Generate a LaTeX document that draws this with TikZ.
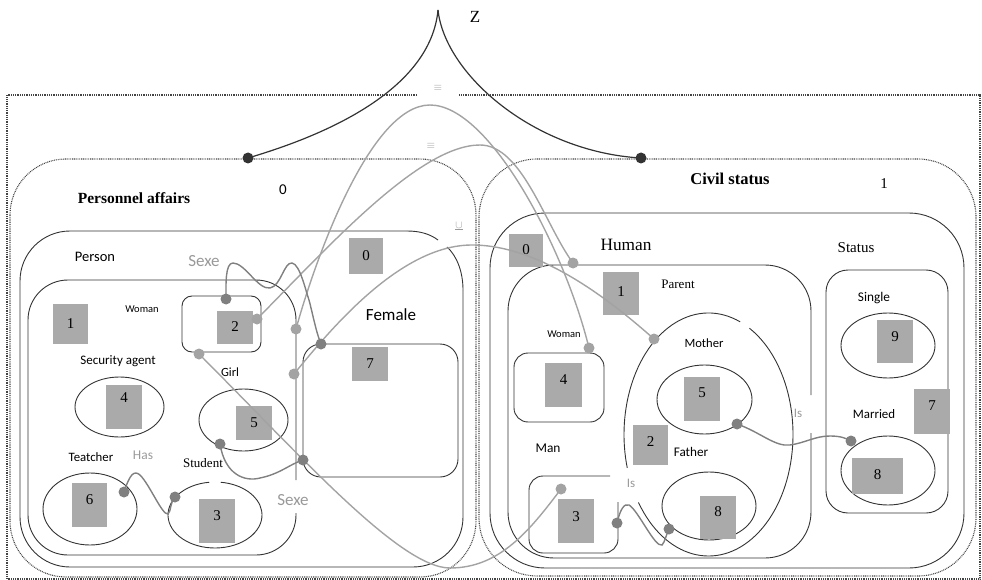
\documentclass[tikz,border=0pt]{standalone}
\usepackage{fontspec}
\setmainfont{Liberation Serif}
\newfontfamily\calib{Carlito}
\definecolor{boxline}{HTML}{333333}
\definecolor{panelline}{HTML}{444444}
\definecolor{sqfill}{HTML}{AAAAAA}
\definecolor{lightlink}{HTML}{A3A3A3}
\definecolor{darklink}{HTML}{808080}
\definecolor{softtext}{HTML}{999999}
\definecolor{zdark}{HTML}{333333}

% gray numbered square: name, x1, y1, x2, y2, number, y of number
\newcommand\numsq[7]{%
  \fill[sqfill] (#2,#3) rectangle (#4,#5);
  \node[rm=15] (#1) at ({(#2+#4)/2},#7) {#6};}

\tikzset{
  panel/.style={draw=panelline, line width=1.1pt, dash pattern=on 0.9pt off 0.9pt},
  frame/.style={draw=boxline, line width=0.9pt},
  link/.style={draw=lightlink, line width=1.4pt},
  wiggle/.style={draw=darklink, line width=1.4pt},
  zline/.style={draw=zdark, line width=1.2pt},
  sf/.style={inner sep=0, font={\calib\fontsize{#1}{#1}\selectfont}},
  rm/.style={inner sep=0, font={\fontsize{#1}{#1}\selectfont}},
  bf/.style={inner sep=0, font={\bfseries\fontsize{#1}{#1}\selectfont}},
  soft/.style={text=softtext},
  ldot/.style={fill=lightlink},
  ddot/.style={fill=darklink},
}

\begin{document}
\begin{tikzpicture}[x=1pt,y=-1pt]
\useasboundingbox (0,0) rectangle (982,580);

% ---------- outer frame and the two panels ----------
\draw[panel] (417,95) -- (7,95) -- (7,579) -- (980,579) -- (980,95) -- (459,95);
\draw[panel, rounded corners=56pt] (10,159) rectangle (476,577);
\draw[panel, rounded corners=58pt] (479,159) rectangle (976,576);

% ---------- Personnel affairs ----------
% Person
\draw[frame, rounded corners=50pt] (407,231) -- (20,231) -- (20,567) -- (463,567) -- (463,290);
\draw[frame] (438,240) .. controls (430,234) and (420,231) .. (407,231);
\draw[frame] (463,290) .. controls (463,272) and (457,256) .. (447,247);
% inner Person box (open where "Sexe" sits)
\draw[frame, rounded corners=40pt] (296,480) -- (296,280) -- (28,280) -- (28,555) -- (296,555) -- (296,513);
% Woman box, Female box
\draw[frame, rounded corners=10pt] (182,296) rectangle (261,352);
\draw[frame, rounded corners=18pt] (303,344) rectangle (458,477);
% ellipses
\draw[frame] (119.5,407) ellipse [x radius=44.5, y radius=30];
\draw[frame] (243.5,420) ellipse [x radius=44.5, y radius=31];
\draw[frame] (90,509) ellipse [x radius=47, y radius=36];
\draw[frame] ([shift={(-97:47 and 33)}]215,515) arc[start angle=-97, end angle=-443, x radius=47, y radius=33];

% ---------- Civil status ----------
\draw[frame, rounded corners=55pt] (490,213) rectangle (964,568);
\draw[frame, rounded corners=46pt] (811,395) -- (811,265) -- (508,265) -- (508,558) -- (811,558) -- (811,433);
\draw[frame, rounded corners=22pt] (826,270) rectangle (948,513);
\draw[frame, rounded corners=14pt] (514,353) rectangle (604,422);
\draw[frame, rounded corners=14pt] (610,476) -- (529,476) -- (529,553) -- (618,553) -- (618,502);
% Parent ellipse, drawn in two arcs
\draw[frame] ([shift={(-68:84.5 and 121.5)}]708.5,434.5) arc[start angle=-68, end angle=-196, x radius=84.5, y radius=121.5];
\draw[frame] ([shift={(-214:84.5 and 121.5)}]708.5,434.5) arc[start angle=-214, end angle=-421, x radius=84.5, y radius=121.5];
\draw[frame] (704.5,399.5) ellipse [x radius=47.5, y radius=34.5];
\draw[frame] (709,506) ellipse [x radius=47, y radius=34];
\draw[frame] (888,345.5) ellipse [x radius=47, y radius=32.5];
\draw[frame] (888,470.5) ellipse [x radius=47, y radius=34.5];

% ---------- numbered squares ----------
\numsq{qL1}{53}{304}{88}{344}{1}{324}
\numsq{qL2}{217}{311}{253}{344}{2}{327}
\numsq{qL4}{106}{385}{142}{429}{4}{398}
\numsq{qL5}{236}{406}{272}{440}{5}{423}
\numsq{qL6}{72}{483}{107}{527}{6}{500}
\numsq{qL3}{199}{499}{235}{543}{3}{516}
\numsq{qL7}{352}{347}{388}{381}{7}{364}
\numsq{qL0}{349}{238}{383}{274}{0}{256}
\numsq{qR0}{509}{234}{543}{267}{0}{250}
\numsq{qR1}{603}{272}{639}{315}{1}{292}
\numsq{qR4}{545}{363}{582}{407}{4}{380}
\numsq{qR5}{684}{377}{720}{421}{5}{393}
\numsq{qR2}{633}{425}{668}{465}{2}{442}
\numsq{qR8}{700}{496}{736}{539}{8}{512}
\numsq{qR3}{558}{499}{594}{543}{3}{517}
\numsq{qR9}{877}{320}{913}{363}{9}{337}
\numsq{qR7}{914}{389}{950}{434}{7}{406}
\numsq{qR8m}{852}{458}{903}{494}{8}{475}

% ---------- labels ----------
\node[rm=17] (tZ) at (475,17) {Z};
\node[rm=11, soft] (eq1) at (438,88) {$\equiv$};
\node[rm=11, soft] (eq2) at (431,146) {$\equiv$};
\node[rm=11, soft] (sub) at (459,226) {$\underline{\cup}$};

\node[bf=15.5] (tPA) at (134,198) {Personnel affairs};
\node[sf=15] (tP0) at (283,190) {0};
\node[bf=16.5] (tCS) at (730,179) {Civil status};
\node[rm=15] (tC1) at (884,184) {1};

\node[sf=14.5] (tPerson) at (95,257) {Person};
\node[sf=17, soft] (tSexe1) at (204,261) {Sexe};
\node[sf=10.5] (tWomanL) at (142,309) {Woman};
\node[sf=13] (tSec) at (118,361) {Security agent};
\node[sf=12.5] (tGirl) at (230,372) {Girl};
\node[sf=12.8] (tTea) at (91,457) {Teatcher};
\node[sf=13.4, soft] (tHas) at (143,455) {Has};
\node[rm=13] (tStu) at (203,463) {Student};
\node[sf=17] (tFem) at (391,315) {Female};
\node[sf=17, soft] (tSexe2) at (293,500) {Sexe};

\node[rm=17.3] (tHuman) at (626,245) {Human};
\node[rm=15] (tStatus) at (856,248) {Status};
\node[rm=13] (tParent) at (678,284) {Parent};
\node[sf=10.5] (tWomanR) at (564,334) {Woman};
\node[sf=12.6] (tMother) at (704,343) {Mother};
\node[sf=13.2] (tFather) at (691,452) {Father};
\node[sf=13.4] (tMan) at (548,448) {Man};
\node[sf=13, soft] (tIs1) at (798,413) {Is};
\node[sf=13, soft] (tIs2) at (631,483) {Is};
\node[sf=13.3] (tSingle) at (874,298) {Single};
\node[sf=12.9] (tMarried) at (874,414) {Married};

% ---------- connector end points ----------
\coordinate (zc) at (438,10);
\coordinate (dPA) at (248,158);
\coordinate (dCS) at (641,158);
\coordinate (dSexeA) at (226,299);
\coordinate (dFemC) at (321,344);
\coordinate (dGirl) at (220,444);
\coordinate (dFemB) at (303,460);
\coordinate (dTea) at (124,492);
\coordinate (dStu) at (175,497);
\coordinate (dMoth5) at (737,424);
\coordinate (dMarr) at (851,441);
\coordinate (dMan) at (617,523);
\coordinate (dFath) at (669,529);
\coordinate (dWR) at (257,319);
\coordinate (dWB) at (199,354);
\coordinate (dIn1) at (296,329);
\coordinate (dIn2) at (294,374);
\coordinate (dHum) at (573,263);
\coordinate (dWomR) at (589,348);
\coordinate (dMother) at (654,339);
\coordinate (dManIn) at (561,489);

% ---------- Z ----------
\draw[zline] (zc) .. controls (432,75) and (360,125) .. (dPA);
\draw[zline] (zc) .. controls (445,75) and (535,152) .. (dCS);

% ---------- long links between the panels ----------
\draw[link] (dIn1) .. controls (315,260) and (370,105) .. (430,105)
            .. controls (490,105) and (565,250) .. (dWomR);
\draw[link] (dWR) .. controls (330,245) and (420,145) .. (480,145)
            .. controls (522,145) and (545,225) .. (dHum);
\draw[link] (dIn2) .. controls (330,330) and (400,245) .. (472,245)
            .. controls (540,245) and (610,300) .. (dMother);
\draw[link] (dWB) .. controls (300,455) and (400,568) .. (450,568)
            .. controls (500,568) and (530,530) .. (dManIn);

% ---------- short wiggles ----------
\draw[wiggle] (dSexeA) .. controls (226,285) and (225,263) .. (233,263)
              .. controls (245,263) and (258,290) .. (270,288)
              .. controls (281,286) and (284,262) .. (292,263)
              .. controls (300,264) and (306,292) .. (309,300)
              .. controls (313,315) and (316,332) .. (dFemC);
\draw[wiggle] (dGirl) .. controls (225,475) and (245,482) .. (260,478)
              .. controls (280,474) and (290,464) .. (dFemB);
\draw[wiggle] (dTea) .. controls (130,474) and (134,470) .. (140,475)
              .. controls (150,485) and (162,515) .. (168,514)
              .. controls (171,512) and (170,502) .. (dStu);
\draw[wiggle] (dMoth5) .. controls (760,432) and (775,447) .. (790,445)
              .. controls (805,443) and (815,436) .. (830,436)
              .. controls (840,436) and (846,438) .. (dMarr);
\draw[wiggle] (dMan) .. controls (620,510) and (624,503) .. (629,505)
              .. controls (638,510) and (655,548) .. (662,545)
              .. controls (665,542) and (666,535) .. (dFath);

% ---------- dots ----------
\fill[zdark] (dPA) circle (5.5) (dCS) circle (5.5);
\foreach \p in {dSexeA,dFemC,dGirl,dFemB,dTea,dStu,dMoth5,dMarr,dMan,dFath}
  \fill[ddot] (\p) circle (5.5);
\foreach \p in {dWR,dWB,dIn1,dIn2,dHum,dWomR,dMother,dManIn}
  \fill[ldot] (\p) circle (5.5);
\end{tikzpicture}
\end{document}
